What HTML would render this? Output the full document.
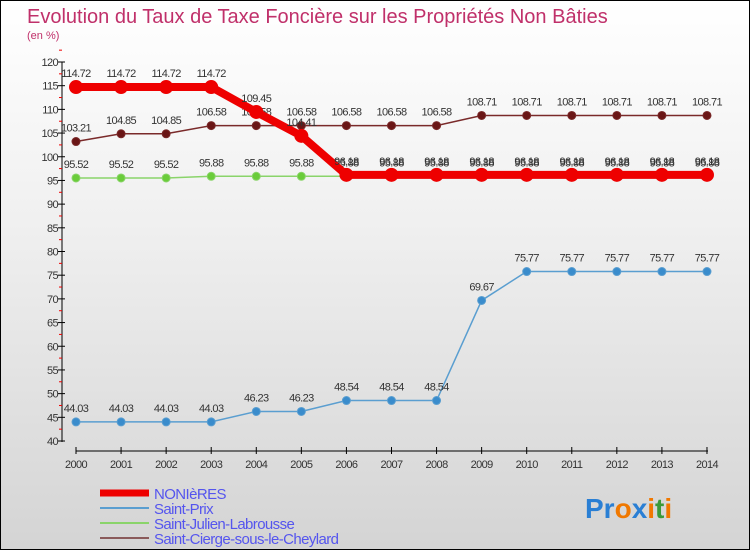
<!DOCTYPE html>
<html><head><meta charset="utf-8"><style>
body{margin:0}
#c{width:748px;height:548px;border:1px solid #000;background:linear-gradient(#fff 0%,#f0f0f0 40%,#d4d4d4 100%);position:relative;overflow:hidden;font-family:"Liberation Sans","DejaVu Sans",sans-serif}
</style></head><body>
<div id="c">
<svg id="s" width="748" height="548">
<text x="26" y="22" font-size="20" fill="#c0306a">Evolution du Taux de Taxe Foncière sur les Propriétés Non Bâties</text>
<text x="26" y="38" font-size="11" fill="#c0306a">(en %)</text>
<text x="584" y="517" font-size="28" font-weight="bold"><tspan fill="#2a7fd4">Pr</tspan><tspan fill="#f07800">o</tspan><tspan fill="#2a7fd4">x</tspan><tspan fill="#f07800">i</tspan><tspan fill="#3a9a3a">t</tspan><tspan fill="#f07800">i</tspan></text>
</svg>
</div>
<script>
const years=[2000,2001,2002,2003,2004,2005,2006,2007,2008,2009,2010,2011,2012,2013,2014];
const yTicks=[40,45,50,55,60,65,70,75,80,85,90,95,100,105,110,115,120];
const nonieres=[114.72,114.72,114.72,114.72,109.45,104.41,96.18,96.18,96.18,96.18,96.18,96.18,96.18,96.18,96.18];
const saintPrix=[44.03,44.03,44.03,44.03,46.23,46.23,48.54,48.54,48.54,69.67,75.77,75.77,75.77,75.77,75.77];
const saintJulien=[95.52,95.52,95.52,95.88,95.88,95.88,95.88,95.88,95.88,95.88,95.88,95.88,95.88,95.88,95.88];
const saintCierge=[103.21,104.85,104.85,106.58,106.58,106.58,106.58,106.58,106.58,108.71,108.71,108.71,108.71,108.71,108.71];
const svg=document.getElementById('s');const NS='http://www.w3.org/2000/svg';
const X=i=>75+i*45.07, Y=v=>440-(v-40)*(379/80);
function mk(t,a,p){const e=document.createElementNS(NS,t);for(const k in a)e.setAttribute(k,a[k]);(p||svg).appendChild(e);return e;}
const ax=mk('g',{});


mk('line',{x1:61,y1:61,x2:61,y2:441,stroke:'#000'},ax);
mk('line',{x1:75,y1:450,x2:707,y2:450,stroke:'#000'},ax);
yTicks.forEach(v=>{mk('line',{x1:57,x2:64,y1:Y(v),y2:Y(v),stroke:'#000'},ax);
 mk('line',{x1:58,x2:61,y1:Y(v+2.5),y2:Y(v+2.5),stroke:'#e00'},ax);
 const t=mk('text',{x:57,y:Y(v)+4,'font-size':11,'text-anchor':'end',fill:'#333','letter-spacing':'-0.6'},ax);t.textContent=v;
 
 });
years.forEach((y,i)=>{mk('line',{x1:X(i),x2:X(i),y1:446,y2:453,stroke:'#000'},ax);
 const t=mk('text',{x:X(i),y:467,'font-size':11,'text-anchor':'middle',fill:'#333','letter-spacing':'-0.6'},ax);t.textContent=y;
 
 });
function series(d,col,w,r,mc,name){const g=mk('g',{});
 
 
 mk('polyline',{points:d.map((v,i)=>X(i)+','+Y(v)).join(' '),fill:'none',stroke:col,'stroke-width':w},g);
 d.forEach((v,i)=>{const c=mk('circle',{cx:X(i),cy:Y(v),r:r,fill:mc,stroke:col,'stroke-width':1},g);
  
  
  const t=mk('text',{x:X(i),y:Y(v)-10,'font-size':11,'text-anchor':'middle',fill:'#333','letter-spacing':'-0.6'},g);t.textContent=String(v);
  
  });}
series(saintPrix,'#5a9ed0',1.5,4,'#3a8ccc','saint-prix');
series(saintCierge,'#7a2a2a',1.5,4,'#6a1616','saint-cierge');
series(saintJulien,'#8ad46a',1.5,4,'#6acc3a','saint-julien');
series(nonieres,'#ee0000',8,6.5,'#ee0000','nonieres');
const lg=[['NONIèRES','#ee0000',7],['Saint-Prix','#5a9ed0',2],['Saint-Julien-Labrousse','#8ad46a',2],['Saint-Cierge-sous-le-Cheylard','#8a5a5a',2]];
lg.forEach((l,i)=>{const g=mk('g',{});
 
 
 const y=492+i*15;
 mk('line',{x1:99,x2:148,y1:y,y2:y,stroke:l[1],'stroke-width':l[2]},g);
 const t=mk('text',{x:153,y:y+6,'font-size':15,fill:'#5555ee','letter-spacing':'-0.6'},g);t.textContent=l[0];});
</script>
</body></html>
